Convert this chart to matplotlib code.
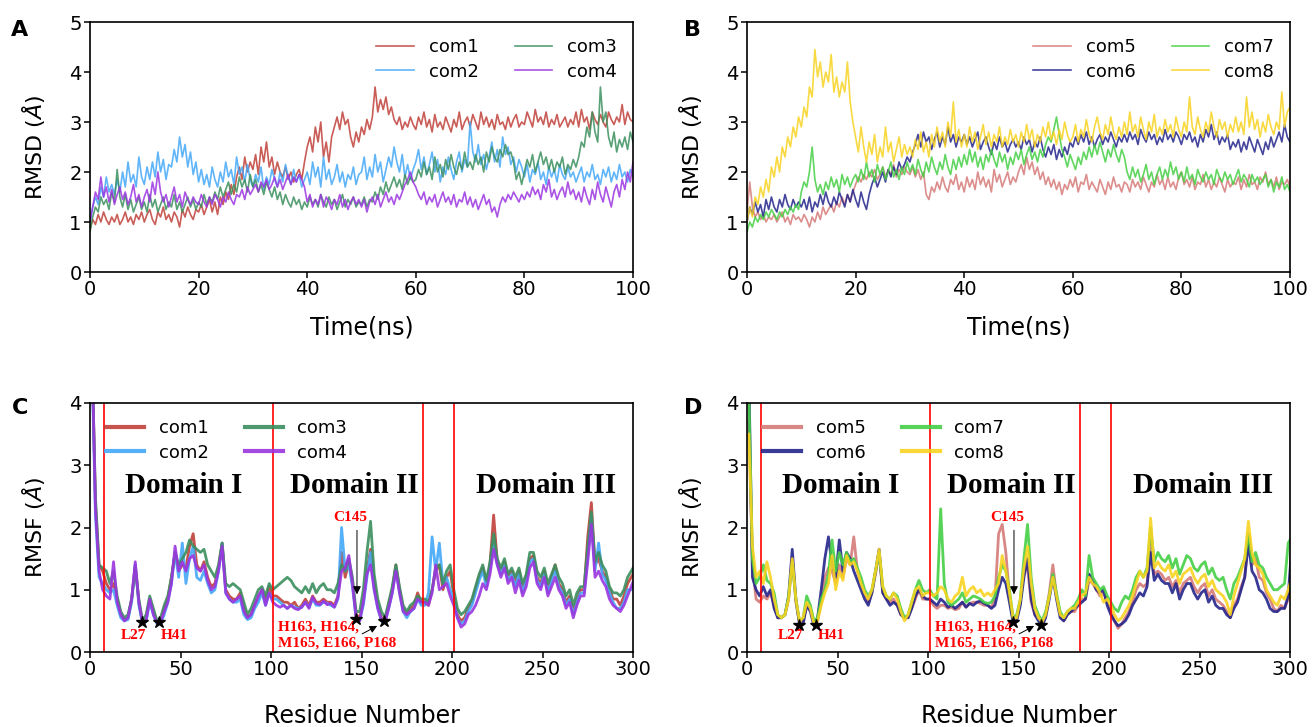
import numpy as np
import matplotlib
matplotlib.use('Agg')
import matplotlib.pyplot as plt

# ---------------- RMSD data (0 - 100 ns, every 0.5 ns) ----------------
com1_rmsd = np.array("""
0.85 1.05 0.95 1.15 1.0 1.2 1.05 0.95 1.1 1.0 1.15 0.95 1.05 1.2 1.0 1.1 0.95 1.15 1.05 1.2
1.0 1.15 1.25 1.05 0.95 1.2 1.1 1.3 1.05 1.15 1.0 1.2 1.1 0.9 1.25 1.1 1.3 1.15 1.05 1.25
1.2 1.35 1.15 1.3 1.45 1.2 1.4 1.15 1.5 1.35 1.6 1.45 1.75 1.55 1.9 2.1 1.85 2.3 2.0 2.2
2.05 2.35 1.95 2.5 2.2 2.6 2.1 2.3 1.95 2.2 2.0 1.9 2.1 1.85 2.0 1.8 1.95 2.05 1.85 2.2
2.5 2.7 2.4 2.9 2.6 3.0 2.3 2.6 2.2 2.7 2.9 3.1 2.85 3.2 2.95 3.05 2.7 2.5 2.8 2.6
2.9 2.75 3.05 2.85 3.1 3.7 3.2 3.45 3.25 3.5 3.15 3.3 3.05 2.95 3.1 2.85 3.0 2.9 3.1 2.95
2.85 3.1 2.95 3.2 2.9 3.05 2.8 3.15 2.9 3.0 2.85 3.1 2.95 2.8 3.05 2.9 3.2 2.85 3.0 3.1
2.9 3.15 3.0 2.85 3.2 2.95 3.1 2.9 3.05 2.85 3.15 2.95 3.0 2.85 3.1 2.9 3.05 3.15 2.9 3.0
2.95 3.2 3.05 2.9 3.25 3.0 3.1 2.95 3.2 2.9 3.05 2.95 3.15 2.9 3.0 3.1 2.9 3.05 2.95 3.2
2.9 3.25 3.0 3.1 2.85 3.2 3.05 2.95 3.15 3.0 2.9 3.2 3.05 2.95 3.1 3.0 3.35 2.95 3.2 3.05
3.0
""".split(), dtype=float)

com2_rmsd = np.array("""
1.0 1.3 1.5 1.35 1.7 1.5 1.9 1.6 1.75 1.55 1.85 1.6 2.0 1.7 2.2 1.8 1.95 1.7 2.3 1.9
1.75 2.1 1.85 2.2 1.9 2.4 2.0 2.25 1.85 2.15 2.1 2.45 2.2 2.7 2.3 2.55 2.1 2.4 1.95 2.2
1.8 2.05 1.75 1.95 1.7 2.1 1.85 1.7 2.0 1.8 2.2 1.9 2.05 1.75 2.3 1.95 2.1 1.8 2.15 1.85
1.7 1.95 1.8 2.1 1.65 1.9 1.75 2.05 1.85 1.7 2.0 1.8 2.15 1.9 1.75 2.05 1.8 1.95 1.7 1.85
2.0 1.75 2.2 1.9 2.1 1.7 2.3 1.85 2.05 1.75 1.9 2.15 1.8 2.0 1.7 1.95 1.85 2.1 1.75 1.95
2.0 2.3 1.85 2.1 1.9 2.35 2.0 2.2 1.8 2.05 2.3 2.1 2.5 2.2 2.0 2.35 1.9 2.15 1.85 2.05
2.2 2.45 2.05 2.3 1.95 2.15 2.4 2.0 2.25 1.8 2.1 1.95 2.3 2.05 1.85 2.2 2.4 2.0 2.25 2.1
3.0 2.4 2.2 2.55 2.15 2.35 2.05 2.3 2.6 2.2 2.45 2.1 2.7 2.35 2.5 2.15 2.3 2.0 2.25 2.1
1.9 2.15 1.8 2.05 1.95 2.2 1.85 2.0 1.75 2.1 1.9 2.05 1.8 2.15 1.95 1.85 2.1 1.9 2.0 1.8
1.95 2.1 1.8 2.0 1.9 2.15 1.85 1.95 1.75 2.05 1.9 2.1 1.8 2.0 1.85 2.15 1.9 2.0 1.8 2.05
1.9
""".split(), dtype=float)

com3_rmsd = np.array("""
0.8 1.1 1.3 1.2 1.5 1.35 1.45 1.25 1.6 1.4 2.05 1.5 1.3 1.55 1.25 1.45 1.2 1.35 1.5 1.25
1.4 1.2 1.55 1.3 1.45 1.2 1.35 1.5 1.25 1.4 1.3 1.55 1.25 1.4 1.2 1.35 1.5 1.3 1.45 1.25
1.4 1.3 1.55 1.35 1.5 1.4 1.6 1.45 1.7 1.5 1.65 1.8 1.55 1.75 1.6 1.9 1.7 1.85 1.6 1.95
1.7 1.85 1.6 1.75 1.55 1.8 1.65 1.5 1.7 1.45 1.6 1.35 1.55 1.4 1.3 1.5 1.35 1.45 1.25 1.4
1.3 1.5 1.35 1.45 1.3 1.55 1.4 1.3 1.5 1.35 1.45 1.25 1.4 1.55 1.3 1.45 1.35 1.5 1.3 1.4
1.35 1.5 1.3 1.45 1.4 1.6 1.45 1.7 1.55 1.8 1.6 1.75 1.9 1.7 1.85 1.65 1.95 1.75 1.9 1.8
1.85 2.05 1.9 2.2 1.95 2.1 1.85 2.3 2.0 2.15 1.9 2.25 2.05 2.35 2.1 1.95 2.2 2.05 2.4 2.1
2.2 2.05 2.35 2.15 2.3 2.0 2.4 2.2 2.5 2.3 2.2 2.45 2.3 2.55 2.35 2.4 2.2 1.85 2.0 1.75
2.0 2.25 2.1 2.35 2.0 2.2 2.4 2.15 2.3 2.05 2.25 2.0 2.2 2.1 2.3 1.95 2.15 2.05 2.25 2.1
2.3 2.6 2.5 2.9 2.7 3.2 2.8 2.6 3.7 3.0 3.2 2.7 2.5 2.8 2.4 2.65 2.5 2.7 2.45 2.8
2.6
""".split(), dtype=float)

com4_rmsd = np.array("""
1.0 1.3 1.6 1.45 1.9 1.5 1.7 1.4 1.65 1.35 1.55 1.7 1.45 1.6 1.35 1.5 1.75 1.4 1.55 1.3
1.5 1.65 1.4 1.8 1.55 2.0 1.6 1.4 1.55 1.3 1.5 1.7 1.4 1.55 1.3 1.6 1.45 1.35 1.5 1.4
1.35 1.55 1.4 1.3 1.5 1.35 1.55 1.45 1.3 1.5 1.4 1.6 1.45 1.35 1.55 1.5 1.65 1.45 1.7 1.55
1.65 1.75 1.6 1.8 1.7 1.85 1.65 1.75 1.9 1.7 1.85 1.65 1.8 1.95 1.75 1.9 1.8 1.95 1.85 1.7
1.4 1.55 1.3 1.45 1.35 1.55 1.3 1.5 1.4 1.25 1.45 1.35 1.55 1.3 1.45 1.25 1.4 1.5 1.35 1.45
1.3 1.45 1.2 1.4 1.5 1.35 1.55 1.3 1.45 1.6 1.4 1.5 1.35 1.55 1.45 1.6 1.75 1.85 2.0 1.8
1.7 1.55 1.45 1.6 1.35 1.5 1.4 1.55 1.3 1.45 1.6 1.4 1.5 1.35 1.55 1.3 1.45 1.4 1.6 1.35
1.5 1.3 1.45 1.25 1.4 1.55 1.35 1.45 1.2 1.3 1.1 1.35 1.5 1.4 1.55 1.45 1.6 1.5 1.4 1.55
1.45 1.6 1.5 1.7 1.55 1.65 1.45 1.75 1.6 1.85 1.5 1.65 1.45 1.6 1.7 1.5 1.8 1.55 1.65 1.45
1.6 1.4 1.7 1.5 1.35 1.65 1.45 1.8 1.55 1.4 1.7 1.5 1.3 1.6 1.75 1.5 1.85 1.65 2.0 1.8
2.2
""".split(), dtype=float)

com5_rmsd = np.array("""
1.2 1.8 1.3 1.1 1.2 1.05 1.15 1.0 1.1 1.05 1.15 1.0 1.1 1.2 1.0 1.1 0.95 1.15 1.05 1.1
1.0 1.15 1.05 0.9 1.1 1.0 1.2 1.05 1.3 1.15 1.25 1.35 1.2 1.4 1.3 1.5 1.35 1.55 1.4 1.6
1.75 1.9 1.8 1.95 1.85 2.0 1.9 2.05 1.85 1.95 2.1 1.9 2.05 1.95 2.15 1.9 2.05 1.95 2.1 2.0
1.95 2.1 1.9 2.05 1.85 2.0 1.55 1.45 1.7 1.6 1.8 1.65 1.9 1.7 1.6 1.85 1.75 1.95 1.65 1.8
1.6 1.9 1.7 1.85 1.65 2.0 1.75 1.9 1.7 1.85 1.6 2.05 1.8 1.95 1.7 1.85 2.0 1.75 1.9 1.8
2.0 2.15 1.95 2.3 2.05 2.2 1.95 2.1 1.85 2.0 1.75 1.9 1.7 1.85 1.65 1.8 1.55 1.75 1.65 1.85
1.7 1.9 1.6 1.8 1.75 1.95 1.65 1.8 1.7 1.6 1.85 1.7 1.55 1.8 1.65 1.9 1.7 1.75 1.6 1.8
1.75 1.6 1.85 1.7 1.8 1.65 1.9 1.75 1.6 1.8 1.7 1.95 1.75 1.85 1.65 1.9 1.7 1.8 1.65 1.9
2.0 1.75 1.85 1.7 1.9 1.65 1.8 1.75 1.95 1.7 1.85 1.65 1.8 1.7 1.9 1.75 1.6 1.85 1.7 1.8
1.75 1.9 1.65 1.85 1.7 1.95 1.75 1.8 1.65 1.9 1.8 2.0 1.75 1.85 1.7 1.9 1.65 1.8 1.75 1.85
1.7
""".split(), dtype=float)

com6_rmsd = np.array("""
1.0 1.3 1.15 1.4 1.2 1.35 1.1 1.45 1.25 1.5 1.3 1.2 1.45 1.3 1.55 1.35 1.25 1.45 1.3 1.4
1.3 1.45 1.25 1.5 1.2 1.4 1.3 1.55 1.35 1.6 1.4 1.3 1.5 1.35 1.6 1.45 1.3 1.55 1.4 1.65
1.45 1.3 1.6 1.4 1.25 1.55 1.75 1.9 1.7 1.85 2.0 1.8 2.05 1.9 2.1 1.95 2.2 2.05 2.15 2.3
2.2 2.4 2.55 2.75 2.5 2.8 2.6 2.7 2.45 2.65 2.8 2.5 2.7 2.55 2.9 2.6 2.75 2.5 2.7 2.6
2.75 2.55 2.7 2.5 2.65 2.8 2.45 2.6 2.7 2.5 2.35 2.6 2.45 2.7 2.5 2.6 2.4 2.55 2.65 2.5
2.6 2.45 2.7 2.55 2.65 2.4 2.6 2.5 2.7 2.45 2.3 2.5 2.35 2.55 2.25 2.45 2.3 2.5 2.35 2.6
2.5 2.7 2.55 2.75 2.6 2.8 2.55 2.7 2.5 2.65 2.75 2.55 2.7 2.6 2.8 2.65 2.5 2.7 2.6 2.75
2.6 2.8 2.65 2.75 2.55 2.85 2.7 2.6 2.8 2.65 2.75 2.55 2.7 2.6 2.85 2.65 2.75 2.6 2.8 2.7
2.55 2.75 2.65 2.8 2.6 2.7 2.5 2.75 2.6 2.85 2.7 2.95 2.65 2.8 2.55 2.7 2.6 2.75 2.45 2.6
2.5 2.65 2.4 2.6 2.45 2.7 2.55 2.4 2.65 2.5 2.35 2.6 2.45 2.7 2.5 2.65 2.8 2.6 2.95 2.7
2.6
""".split(), dtype=float)

com7_rmsd = np.array("""
0.8 1.0 0.9 1.1 1.0 1.15 1.05 1.2 1.1 1.25 1.15 1.05 1.2 1.1 1.25 1.15 1.3 1.2 1.35 1.25
1.6 1.8 1.7 2.0 2.5 1.85 1.6 1.75 1.55 1.8 1.65 1.9 1.7 1.85 1.6 1.95 1.75 1.9 1.7 1.85
1.95 1.8 2.05 1.85 2.2 1.9 2.05 1.8 2.15 1.95 2.1 1.85 2.0 2.2 1.9 2.05 1.85 2.1 1.95 2.2
2.0 2.15 1.95 2.25 2.05 1.9 2.2 2.0 2.3 2.1 1.95 2.2 2.05 2.35 2.1 1.95 2.25 2.05 2.3 2.1
2.35 2.15 2.45 2.2 2.4 2.1 2.3 2.05 2.35 2.2 2.45 2.25 2.1 2.4 2.2 2.35 2.05 2.3 2.15 2.4
2.25 2.45 2.15 2.35 2.5 2.25 2.4 2.2 2.45 2.3 2.55 2.7 2.6 2.85 3.1 2.75 2.45 2.3 2.1 2.35
2.2 2.05 2.3 2.15 2.4 2.25 2.5 2.3 2.55 2.35 2.6 2.4 2.2 2.45 2.3 2.55 2.35 2.2 2.45 2.3
2.0 1.85 2.1 1.9 2.05 1.8 1.95 2.15 1.85 2.0 1.75 1.95 2.1 1.85 2.05 1.9 2.2 1.95 2.1 1.85
2.0 1.8 2.1 1.85 1.95 1.75 2.05 1.9 1.8 2.0 1.85 1.95 1.75 2.05 1.9 1.8 2.0 1.85 1.95 1.75
1.9 2.05 1.8 1.95 1.85 1.7 1.95 1.8 1.9 1.75 1.85 1.95 1.7 1.85 1.6 1.8 1.7 1.9 1.65 1.75
1.6
""".split(), dtype=float)

com8_rmsd = np.array("""
1.0 1.3 1.1 1.5 1.35 1.7 1.5 1.85 1.6 2.1 1.9 2.3 2.0 2.5 2.3 2.7 2.5 2.9 2.7 3.1
2.9 3.3 3.1 3.7 3.5 4.45 3.9 4.2 3.7 4.0 3.8 4.35 3.6 3.9 3.5 3.8 3.6 4.2 3.4 3.0
2.7 2.4 2.9 2.5 2.2 2.6 2.35 2.75 2.2 2.5 2.3 2.9 2.4 2.6 2.2 2.45 2.7 2.3 2.55 2.35
2.5 2.3 2.65 2.45 2.8 2.4 2.6 2.3 2.75 2.5 2.9 2.6 2.8 2.5 3.0 2.7 3.4 2.6 2.85 2.5
2.75 2.5 2.9 2.6 2.8 2.45 2.7 2.95 2.55 2.8 2.5 2.75 2.6 2.9 2.5 2.7 2.55 2.85 2.6 2.75
2.5 2.8 2.6 2.95 2.65 2.85 2.5 2.75 2.6 2.9 2.7 3.0 2.65 2.8 2.55 2.85 2.65 3.0 2.75 2.6
2.7 2.95 2.6 2.85 2.7 3.05 2.75 2.6 2.9 3.1 2.8 2.65 2.95 2.75 3.1 2.8 2.65 2.9 2.7 3.0
2.75 3.2 2.8 2.95 2.7 3.1 2.85 2.65 3.0 2.8 3.15 2.7 2.9 2.75 3.05 2.8 2.95 2.7 3.1 2.85
2.7 3.0 2.8 3.5 2.9 2.75 3.1 2.85 2.7 3.0 2.8 3.2 2.9 2.7 3.05 2.85 3.0 2.7 2.95 2.8
3.1 2.8 3.0 2.75 3.5 2.9 3.2 2.85 3.05 2.7 3.0 2.8 3.15 2.9 2.75 3.0 2.85 3.6 2.9 3.2
3.3
""".split(), dtype=float)

# ---------------- RMSF data (residues 1 - 301, every 2nd residue) ----------------
com1_rmsf = np.array("""
5.0 2.4 1.4 1.3 1.1 1.0 1.1 0.85 0.6 0.52
0.55 0.85 1.4 0.8 0.48 0.55 0.85 0.65 0.48 0.5
0.7 0.85 1.2 1.6 1.3 1.4 1.35 1.7 1.9 1.4
1.3 1.45 1.2 1.05 1.1 1.35 1.75 1.0 0.9 0.85
0.85 0.95 0.7 0.55 0.6 0.75 0.85 1.0 0.8 1.05
0.9 0.9 0.85 0.8 0.8 0.75 0.8 0.7 0.75 0.85
0.75 0.9 0.8 0.8 0.85 0.8 0.8 0.75 0.9 1.6
1.2 1.45 1.1 0.6 0.55 0.8 1.3 1.65 1.1 0.75
0.55 0.5 0.75 1.0 1.4 1.0 0.7 0.6 0.7 0.75
0.95 0.8 0.8 0.75 1.0 1.3 1.4 1.0 1.2 1.3
0.9 0.6 0.5 0.55 0.7 0.8 1.0 1.2 1.35 1.1
1.4 2.2 1.45 1.3 1.45 1.2 1.3 1.1 1.3 1.0
1.2 1.5 1.55 1.2 1.1 1.3 1.0 1.2 1.4 1.1
1.0 0.8 0.9 0.65 0.85 1.0 1.0 1.85 2.4 1.4
1.5 1.3 1.2 1.0 0.85 0.85 0.75 0.9 1.1 1.2
1.3
""".split(), dtype=float)

com2_rmsf = np.array("""
4.8 2.2 1.2 1.1 1.0 0.95 1.0 0.75 0.55 0.5
0.52 0.8 1.4 0.75 0.45 0.5 0.8 0.6 0.45 0.45
0.6 0.8 1.1 1.6 1.2 1.75 1.1 1.5 1.7 1.2
1.15 1.3 1.1 0.95 1.0 1.3 1.75 0.95 0.85 0.8
0.8 0.85 0.6 0.52 0.55 0.7 0.8 0.95 0.75 0.95
0.85 0.85 0.8 0.75 0.7 0.75 0.72 0.7 0.72 0.8
0.72 0.85 0.75 0.75 0.8 0.78 0.75 0.72 0.85 2.0
1.3 1.4 1.05 0.55 0.5 0.75 1.2 1.6 1.0 0.7
0.5 0.48 0.7 0.95 1.35 0.95 0.65 0.55 0.65 0.7
0.85 0.75 0.75 0.95 1.85 1.3 1.75 1.1 1.2 1.0
0.85 0.55 0.45 0.5 0.65 0.75 0.95 1.15 1.3 1.05
1.35 1.75 1.4 1.25 1.4 1.15 1.25 1.05 1.25 0.95
1.15 1.45 1.5 1.15 1.05 1.25 0.95 1.15 1.3 1.05
0.95 0.75 0.85 0.6 0.8 0.95 0.95 1.55 2.2 1.3
1.75 1.25 1.15 0.95 0.8 0.7 0.7 0.8 1.0 1.0
1.1
""".split(), dtype=float)

com3_rmsf = np.array("""
4.9 2.5 1.4 1.35 1.3 1.1 1.3 0.9 0.65 0.55
0.6 0.85 1.35 0.85 0.5 0.6 0.9 0.7 0.5 0.55
0.75 0.9 1.2 1.6 1.4 1.5 1.6 1.8 1.7 1.65
1.6 1.65 1.4 1.3 1.2 1.4 1.75 1.1 1.05 1.1
1.05 1.0 0.8 0.6 0.7 0.85 1.0 1.05 0.9 1.1
1.0 1.05 1.1 1.15 1.2 1.15 1.05 1.0 0.95 1.05
0.95 1.1 0.95 1.05 1.1 1.0 1.0 0.95 1.1 1.4
1.3 1.5 1.2 0.65 0.65 1.0 1.6 2.1 1.25 0.85
0.65 0.55 0.8 1.05 1.4 1.05 0.75 0.65 0.75 0.8
0.9 0.85 0.85 0.8 1.0 1.35 1.4 1.1 1.3 1.4
1.0 0.7 0.6 0.65 0.75 0.85 1.05 1.25 1.4 1.15
1.45 1.9 1.5 1.35 1.5 1.25 1.35 1.2 1.35 1.1
1.25 1.6 1.6 1.3 1.2 1.35 1.1 1.25 1.4 1.2
1.1 0.9 1.0 0.75 0.95 1.05 1.05 1.7 2.25 1.45
1.6 1.4 1.3 1.05 0.95 0.95 0.9 1.0 1.2 1.3
1.4
""".split(), dtype=float)

com4_rmsf = np.array("""
5.0 2.3 1.3 1.0 0.9 0.85 1.45 0.8 0.6 0.5
0.55 0.85 1.45 0.8 0.47 0.5 0.85 0.6 0.47 0.48
0.65 0.8 1.1 1.7 1.3 1.45 1.3 1.5 1.55 1.35
1.3 1.4 1.15 1.0 1.05 1.3 1.7 0.95 0.85 0.8
0.85 0.9 0.65 0.55 0.6 0.75 0.9 1.0 0.75 0.95
0.8 0.75 0.72 0.75 0.7 0.75 0.7 0.68 0.72 0.8
0.7 0.88 0.78 0.76 0.82 0.76 0.78 0.72 0.88 1.3
1.35 1.55 1.1 0.55 0.5 0.8 1.25 1.4 1.0 0.7
0.52 0.48 0.7 0.95 1.3 0.95 0.65 0.6 0.65 0.7
0.85 0.8 0.8 0.75 0.95 1.4 1.0 1.05 1.1 0.9
0.75 0.55 0.4 0.45 0.6 0.65 0.75 0.9 1.1 1.0
1.25 1.65 1.4 1.2 1.35 1.1 1.2 0.95 1.15 0.9
1.05 1.35 1.45 1.1 1.0 1.2 0.9 1.05 1.2 1.0
0.9 0.7 0.8 0.55 0.75 0.9 0.9 1.45 2.05 1.2
1.3 1.15 1.05 0.85 0.75 0.7 0.65 0.75 0.9 1.05
1.2
""".split(), dtype=float)

com5_rmsf = np.array("""
3.7 1.4 0.85 0.8 0.9 0.85 0.95 0.75 0.55 0.55
0.6 0.85 1.5 0.8 0.45 0.5 0.75 0.7 0.45 0.5
0.8 1.2 1.35 1.3 1.1 1.4 1.2 1.5 1.4 1.85
1.3 1.1 0.95 0.8 0.95 1.25 1.6 0.95 0.85 0.8
0.85 0.75 0.6 0.55 0.55 0.7 0.85 1.0 0.85 0.85
0.85 0.75 0.7 0.75 0.75 0.7 0.72 0.68 0.7 0.8
0.72 0.78 0.8 0.8 0.78 0.75 0.75 0.72 0.85 1.9
2.05 1.6 0.9 0.5 0.55 0.8 1.3 1.35 0.8 0.6
0.55 0.45 0.6 0.95 1.4 0.9 0.6 0.5 0.6 0.65
0.65 0.75 0.85 0.85 1.15 1.1 1.0 0.9 0.95 0.8
0.65 0.5 0.38 0.45 0.55 0.65 0.8 1.0 1.1 1.05
1.1 1.8 1.25 1.3 1.25 1.15 1.2 1.05 1.15 0.95
1.1 1.15 1.2 1.05 0.95 1.05 1.1 0.9 1.0 0.85
0.8 0.75 0.65 0.55 0.75 0.85 1.05 1.2 1.9 1.4
1.5 1.2 1.15 0.95 0.85 0.7 0.65 0.75 0.7 0.85
1.1
""".split(), dtype=float)

com6_rmsf = np.array("""
4.5 1.2 1.0 0.9 1.05 0.9 1.0 0.7 0.55 0.55
0.6 0.9 1.65 0.85 0.45 0.45 0.75 0.65 0.42 0.55
1.0 1.5 1.85 1.4 1.2 1.8 1.3 1.6 1.5 1.3
1.15 1.0 0.85 0.75 0.95 1.3 1.65 0.95 0.85 0.75
0.8 0.75 0.6 0.55 0.55 0.7 0.9 1.0 0.9 0.85
0.85 0.8 0.75 0.85 0.8 0.72 0.75 0.7 0.75 0.8
0.72 0.78 0.75 0.8 0.82 0.78 0.75 0.7 0.75 1.0
1.2 1.1 0.8 0.48 0.5 0.75 1.2 1.5 0.85 0.6
0.5 0.42 0.55 0.85 1.2 0.85 0.55 0.5 0.6 0.65
0.7 0.75 0.8 0.85 1.25 1.15 1.0 0.95 1.0 0.75
0.6 0.5 0.42 0.45 0.5 0.6 0.75 0.85 0.95 0.9
1.05 1.6 1.15 1.25 1.15 1.1 1.1 0.95 1.1 0.85
1.0 1.1 1.1 0.95 0.85 0.95 1.0 0.8 0.9 0.75
0.7 0.7 0.6 0.55 0.7 0.8 1.0 1.2 1.75 1.3
1.2 1.0 0.95 0.85 0.7 0.65 0.65 0.7 0.7 0.9
1.7
""".split(), dtype=float)

com7_rmsf = np.array("""
4.2 1.5 1.1 1.2 1.4 1.15 1.1 0.95 0.6 0.55
0.6 0.9 1.45 0.85 0.5 0.55 0.9 0.75 0.5 0.55
0.85 1.0 1.25 1.8 1.3 1.6 1.4 1.6 1.45 1.5
1.35 1.2 1.0 0.9 1.0 1.3 1.6 1.05 0.9 0.85
0.95 0.9 0.7 0.55 0.6 0.8 1.0 1.15 1.0 0.95
1.0 0.9 0.85 2.3 1.1 0.8 0.75 0.8 0.85 0.95
0.8 0.85 0.9 0.88 0.85 0.8 0.78 0.8 0.9 1.2
1.4 1.3 1.0 0.55 0.6 0.85 1.5 2.05 1.2 0.75
0.6 0.5 0.65 0.9 1.25 0.95 0.65 0.55 0.65 0.7
0.75 0.85 1.0 0.9 1.55 1.2 1.1 1.0 1.05 0.9
0.8 0.7 0.65 0.8 0.9 0.85 1.0 1.2 1.3 1.2
1.35 2.0 1.45 1.6 1.5 1.45 1.55 1.35 1.5 1.25
1.4 1.55 1.5 1.35 1.3 1.4 1.45 1.25 1.35 1.2
1.15 1.2 1.0 0.85 1.1 1.2 1.35 1.5 1.9 1.45
1.6 1.4 1.35 1.2 1.1 1.0 1.0 1.05 1.1 1.75
1.85
""".split(), dtype=float)

com8_rmsf = np.array("""
3.5 1.7 1.2 1.3 1.1 1.45 1.2 0.85 0.6 0.55
0.6 0.85 1.5 0.85 0.5 0.55 0.8 0.7 0.45 0.5
0.75 0.95 1.1 1.55 1.0 1.3 1.15 1.55 1.4 1.45
1.3 1.1 0.95 0.85 1.0 1.3 1.65 1.05 0.9 0.85
0.95 0.85 0.65 0.5 0.6 0.8 1.0 1.05 0.9 0.95
0.95 0.9 0.95 1.05 1.0 0.85 0.8 0.9 0.95 1.2
0.9 1.0 1.05 0.95 1.0 0.9 0.95 0.9 1.0 1.1
1.55 1.3 0.95 0.55 0.55 0.85 1.35 1.7 1.1 0.7
0.55 0.48 0.6 0.9 1.2 0.9 0.6 0.55 0.65 0.7
0.7 0.8 0.9 0.95 1.2 1.1 1.05 0.95 0.8 0.85
0.75 0.6 0.5 0.55 0.65 0.75 0.9 1.1 1.3 1.2
1.3 2.15 1.35 1.45 1.35 1.3 1.4 1.2 1.3 1.1
1.25 1.3 1.35 1.2 1.1 1.2 1.25 1.05 1.15 1.0
0.95 0.9 0.8 0.6 0.9 1.1 1.3 1.5 2.1 1.6
1.4 1.35 1.25 1.0 0.9 0.8 0.75 0.9 0.85 1.0
1.2
""".split(), dtype=float)

names_ab = ['com1', 'com2', 'com3', 'com4']
names_cd = ['com5', 'com6', 'com7', 'com8']
colors_ab = ['#c0403a', '#44a8f8', '#3b8f5e', '#9b35e0']
colors_cd = ['#d57a78', '#24248c', '#45cf45', '#f8d320']

domain_bounds = [8, 101, 184, 201]
domain_names = ['Domain I', 'Domain II', 'Domain III']
domain_x = [52, 146, 252]

# key residues marked with stars (residue, RMSF)
star_res = [29, 38, 147, 162.5]
star_val_c = [0.48, 0.48, 0.53, 0.50]
star_val_d = [0.43, 0.43, 0.48, 0.43]

serif = 'Liberation Serif'


def style_axes(ax, xmax, ymax, xstep, ystep):
    ax.set_xlim(0, xmax)
    ax.set_ylim(0, ymax)
    ax.set_xticks(np.arange(0, xmax + 1, xstep))
    ax.set_yticks(np.arange(0, ymax + 1, ystep))
    ax.tick_params(axis='both', labelsize=14, length=4, width=1.1, pad=2)
    for s in ax.spines.values():
        s.set_linewidth(1.2)


def rmsd_panel(ax, series, names, colors):
    for y, n, c in zip(series, names, colors):
        t = np.linspace(0, 100, len(y))
        ax.plot(t, y, color=c, lw=1.2, alpha=0.85, label=n)
    style_axes(ax, 100, 5, 20, 1)
    ax.set_xlabel('Time(ns)', fontsize=17, labelpad=12)
    ax.set_ylabel('RMSD ($\\mathit{Å}$)', fontsize=16, labelpad=16)
    ax.legend(ncol=2, loc='upper right', bbox_to_anchor=(1.0, 1.0), frameon=False,
              fontsize=13, handlelength=2.1, columnspacing=2.0, handletextpad=0.8,
              labelspacing=0.35)


def rmsf_panel(ax, series, names, colors, star_val):
    for y, n, c in zip(series, names, colors):
        r = np.linspace(1, 301, len(y))
        ax.plot(r, y, color=c, lw=2.0, alpha=0.9, label=n)
    for b in domain_bounds:
        ax.axvline(b, color='red', lw=1.2)
    style_axes(ax, 300, 4, 50, 1)
    ax.set_xlabel('Residue Number', fontsize=17, labelpad=18)
    ax.set_ylabel('RMSF ($\\mathit{Å}$)', fontsize=16, labelpad=16)
    leg = ax.legend(ncol=2, loc='upper left', bbox_to_anchor=(0.0, 1.0), frameon=False,
                    fontsize=13, handlelength=2.1, columnspacing=2.0, handletextpad=0.8,
                    labelspacing=0.35)
    for h in leg.get_lines():
        h.set_linewidth(3.0)
    for x, txt in zip(domain_x, domain_names):
        ax.text(x, 2.68, txt, ha='center', va='center', fontsize=21,
                fontweight='bold', family=serif)
    ax.plot(star_res, star_val, ls='none', marker='*', color='k', ms=9, zorder=5)
    red = dict(color='red', fontsize=11, fontweight='bold', family=serif)
    ax.text(24, 0.27, 'L27', ha='center', va='center', **red)
    ax.text(46.5, 0.27, 'H41', ha='center', va='center', **red)
    ax.text(144, 2.16, 'C145', ha='center', va='center', **red)
    ax.text(104, 0.27, 'H163, H164,\nM165, E166, P168', ha='left', va='center',
            linespacing=1.25, **red)
    ax.annotate('', xy=(147.5, 0.88), xytext=(147.5, 2.0),
                arrowprops=dict(arrowstyle='-|>', color='k', lw=0.7, mutation_scale=12))
    ax.annotate('', xy=(160, 0.44), xytext=(149, 0.27),
                arrowprops=dict(arrowstyle='-|>', color='k', lw=0.7, mutation_scale=11))


fig = plt.figure(figsize=(13.12, 7.27), dpi=100)
W, H = 1312.0, 727.0
axA = fig.add_axes([90 / W, 1 - 272 / H, 543 / W, 250 / H])
axB = fig.add_axes([747 / W, 1 - 272 / H, 543 / W, 250 / H])
axC = fig.add_axes([90 / W, 1 - 652 / H, 543 / W, 249 / H])
axD = fig.add_axes([747 / W, 1 - 652 / H, 543 / W, 249 / H])

rmsd_panel(axA, [com1_rmsd, com2_rmsd, com3_rmsd, com4_rmsd], names_ab, colors_ab)
rmsd_panel(axB, [com5_rmsd, com6_rmsd, com7_rmsd, com8_rmsd], names_cd, colors_cd)
rmsf_panel(axC, [com1_rmsf, com2_rmsf, com3_rmsf, com4_rmsf], names_ab, colors_ab, star_val_c)
rmsf_panel(axD, [com5_rmsf, com6_rmsf, com7_rmsf, com8_rmsf], names_cd, colors_cd, star_val_d)

for lab, x, y in [('A', 20, 30), ('B', 693, 30), ('C', 20, 408), ('D', 693, 408)]:
    fig.text(x / W, 1 - y / H, lab, fontsize=16, fontweight='bold', ha='center', va='center')

fig.savefig('out.png', dpi=100)
